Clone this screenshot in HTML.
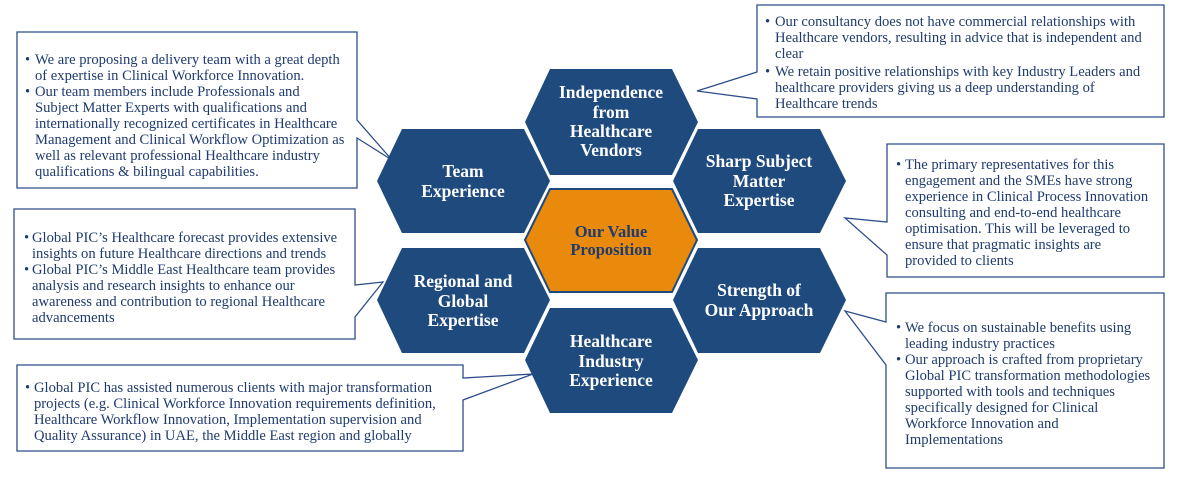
<!DOCTYPE html>
<html><head><meta charset="utf-8"><style>
body{margin:0;background:#fff;}
svg{display:block;}
.t{font-family:"Liberation Serif",serif;font-size:14.6px;fill:#1f3b6e;}
.h{font-family:"Liberation Serif",serif;font-size:17.5px;font-weight:bold;fill:#fff;text-anchor:middle;}
.c{font-family:"Liberation Serif",serif;font-size:16.5px;font-weight:bold;fill:#1f3b6e;text-anchor:middle;}
.b{fill:#fff;stroke:#2e4d8a;stroke-width:1.3;}
.hx{fill:#1f4a7e;}
</style></head><body>
<svg width="1180" height="479" viewBox="0 0 1180 479">
<path class="b" d="M17,32 H357 V120 L392,160 L357,138 V188 H17 Z"/>
<path class="b" d="M757,5 H1164 V117 H757 V99 L697,91 L757,72 Z"/>
<path class="b" d="M887,144 H1164 V277 H887 V255 L845,218 L887,222 Z"/>
<path class="b" d="M14,209 H355 V285 L383,282 L355,317 V339 H14 Z"/>
<path class="b" d="M886,293 H1164 V468 H886 V365 L845,311 L886,322 Z"/>
<path class="b" d="M17,365 H463 V378 L533,374 L463,400 V451 H17 Z"/>
<polygon class="hx" points="550,69 672,69 698,122 672,175 550,175 525,122"/>
<polygon class="hx" points="402,129 524,129 550,181 524,233 402,233 377,181"/>
<polygon class="hx" points="698,129 820,129 846,181 820,233 698,233 673,181"/>
<polygon class="hx" points="402,248 524,248 550,300 524,353 402,353 377,300"/>
<polygon class="hx" points="698,248 820,248 846,300 820,353 698,353 673,300"/>
<polygon class="hx" points="550,308 672,308 698,360 672,413 550,413 525,360"/>
<polygon points="550,189 672,189 697,240 672,292 550,292 525,240" fill="#e98a0c" stroke="#1f4a7e" stroke-width="2"/>
<text class="h" x="611" y="98">Independence</text>
<text class="h" x="611" y="118">from</text>
<text class="h" x="611" y="137">Healthcare</text>
<text class="h" x="611" y="156">Vendors</text>
<text class="h" x="463" y="177">Team</text>
<text class="h" x="463" y="197">Experience</text>
<text class="h" x="759" y="167">Sharp Subject</text>
<text class="h" x="759" y="187">Matter</text>
<text class="h" x="759" y="206">Expertise</text>
<text class="c" x="611" y="237">Our Value</text>
<text class="c" x="611" y="255">Proposition</text>
<text class="h" x="463" y="287">Regional and</text>
<text class="h" x="463" y="307">Global</text>
<text class="h" x="463" y="326">Expertise</text>
<text class="h" x="759" y="296">Strength of</text>
<text class="h" x="759" y="316">Our Approach</text>
<text class="h" x="611" y="347">Healthcare</text>
<text class="h" x="611" y="367">Industry</text>
<text class="h" x="611" y="386">Experience</text>
<g class="t">
<text x="25" y="64">•</text><text x="35" y="64">We are proposing a delivery team with a great depth</text>
<text x="35" y="80">of expertise in Clinical Workforce Innovation.</text>
<text x="25" y="96">•</text><text x="35" y="96">Our team members include Professionals and</text>
<text x="35" y="112">Subject Matter Experts with qualifications and</text>
<text x="35" y="128">internationally recognized certificates in Healthcare</text>
<text x="35" y="144">Management and Clinical Workflow Optimization as</text>
<text x="35" y="160">well as relevant professional Healthcare industry</text>
<text x="35" y="176">qualifications &amp; bilingual capabilities.</text>
</g>
<g class="t">
<text x="765" y="26">•</text><text x="775" y="26">Our consultancy does not have commercial relationships with</text>
<text x="775" y="42">Healthcare vendors, resulting in advice that is independent and</text>
<text x="775" y="58">clear</text>
<text x="765" y="76">•</text><text x="775" y="76">We retain positive relationships with key Industry Leaders and</text>
<text x="775" y="92">healthcare providers giving us a deep understanding of</text>
<text x="775" y="108">Healthcare trends</text>
</g>
<g class="t">
<text x="896" y="169">•</text><text x="905" y="169">The primary representatives for this</text>
<text x="905" y="185">engagement and the SMEs have strong</text>
<text x="905" y="201">experience in Clinical Process Innovation</text>
<text x="905" y="217">consulting and end-to-end healthcare</text>
<text x="905" y="233">optimisation. This will be leveraged to</text>
<text x="905" y="249">ensure that pragmatic insights are</text>
<text x="905" y="265">provided to clients</text>
</g>
<g class="t">
<text x="24" y="242">•</text><text x="32" y="242">Global PIC’s Healthcare forecast provides extensive</text>
<text x="32" y="258">insights on future Healthcare directions and trends</text>
<text x="24" y="274">•</text><text x="32" y="274">Global PIC’s Middle East Healthcare team provides</text>
<text x="32" y="290">analysis and research insights to enhance our</text>
<text x="32" y="306">awareness and contribution to regional Healthcare</text>
<text x="32" y="322">advancements</text>
</g>
<g class="t">
<text x="896" y="332">•</text><text x="905" y="332">We focus on sustainable benefits using</text>
<text x="905" y="348">leading industry practices</text>
<text x="896" y="364">•</text><text x="905" y="364">Our approach is crafted from proprietary</text>
<text x="905" y="380">Global PIC transformation methodologies</text>
<text x="905" y="396">supported with tools and techniques</text>
<text x="905" y="412">specifically designed for Clinical</text>
<text x="905" y="428">Workforce Innovation and</text>
<text x="905" y="444">Implementations</text>
</g>
<g class="t">
<text x="25" y="392">•</text><text x="34" y="392">Global PIC has assisted numerous clients with major transformation</text>
<text x="34" y="408">projects (e.g. Clinical Workforce Innovation requirements definition,</text>
<text x="34" y="424">Healthcare Workflow Innovation, Implementation supervision and</text>
<text x="34" y="440">Quality Assurance) in UAE, the Middle East region and globally</text>
</g>
</svg>
</body></html>
